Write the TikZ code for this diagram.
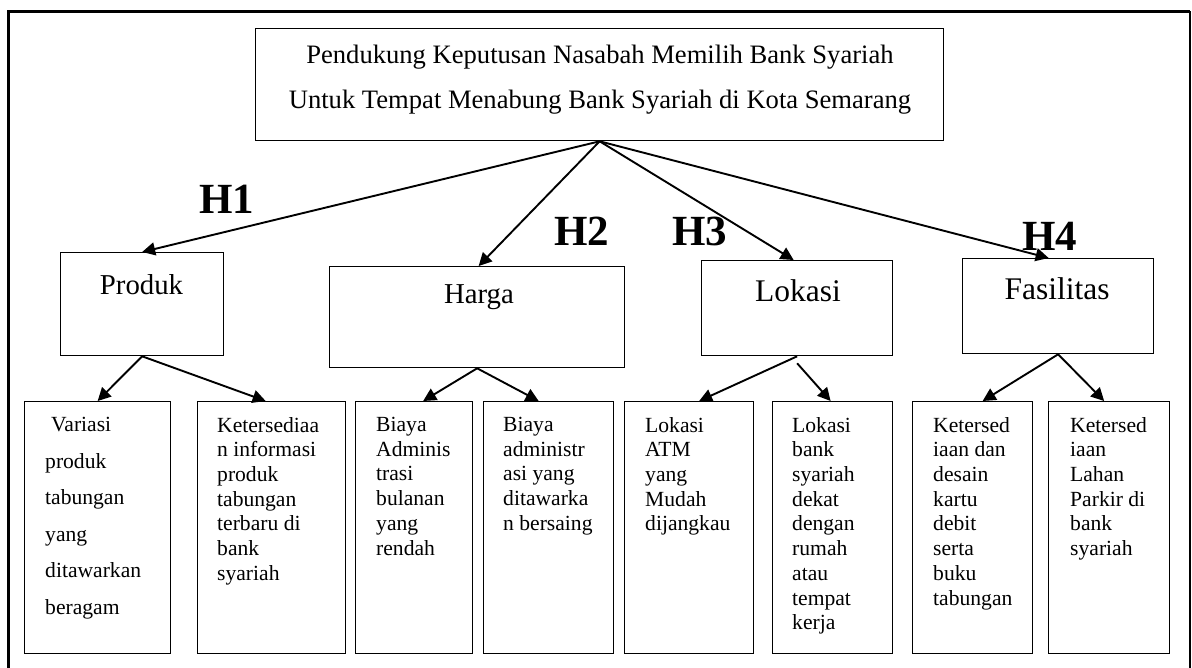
\documentclass[tikz,border=0pt]{standalone}
\usepackage{fontspec}
\setmainfont{Liberation Serif}
\usetikzlibrary{arrows.meta}
\tikzset{
  box/.style={draw=black, line width=1.3pt, inner sep=0pt, anchor=north west},
  conn/.style={line width=1.9pt, -{Triangle[length=13pt,width=13pt]}},
  leaftext/.style={anchor=north west, inner sep=0pt, align=left, font=\fontsize{21.6}{24.7}\selectfont},
  cattext/.style={inner sep=0pt},
  hlabel/.style={inner sep=0pt, font=\fontsize{43}{43}\selectfont\bfseries},
}
\begin{document}
\begin{tikzpicture}[x=1pt,y=-1pt]
\useasboundingbox (0,0) rectangle (1192,667);
\clip (0,0) rectangle (1192,667);
\fill[white] (0,0) rectangle (1192,667);
% outer frame
\draw[line width=3pt] (8,700) -- (8,11) -- (1190,11);
\draw[line width=1.5pt] (1190,11) -- (1190,700);

% title
\node[box, minimum width=688pt, minimum height=112pt] (title) at (255,28) {};
\node[inner sep=0pt, align=center, font=\fontsize{26.6}{45}\selectfont] (titletext) at (600,80)
  {Pendukung Keputusan Nasabah Memilih Bank Syariah\\Untuk Tempat Menabung Bank Syariah di Kota Semarang};

% categories
\node[box, minimum width=163pt, minimum height=103pt] (produk) at (60,252) {};
\node[cattext, font=\fontsize{28.8}{30}\selectfont] (produkt) at (141.5,285) {Produk};
\node[box, minimum width=295pt, minimum height=101pt] (harga) at (329,266) {};
\node[cattext, font=\fontsize{28.8}{30}\selectfont] (hargat) at (479,297) {Harga};
\node[box, minimum width=191pt, minimum height=95pt] (lokasi) at (701,260) {};
\node[cattext, font=\fontsize{31.5}{32}\selectfont] (lokasit) at (798,291) {Lokasi};
\node[box, minimum width=191pt, minimum height=95pt] (fasil) at (962,258) {};
\node[cattext, font=\fontsize{31.5}{32}\selectfont] (fasilt) at (1057,289) {Fasilitas};

% leaf boxes
\node[box, minimum width=146pt, minimum height=252pt] (b1) at (24,401) {};
\node[box, minimum width=148pt, minimum height=252pt] (b2) at (197,401) {};
\node[box, minimum width=117pt, minimum height=252pt] (b3) at (355,401) {};
\node[box, minimum width=130pt, minimum height=252pt] (b4) at (483,401) {};
\node[box, minimum width=129pt, minimum height=252pt] (b5) at (624,401) {};
\node[box, minimum width=120pt, minimum height=252pt] (b6) at (772,401) {};
\node[box, minimum width=120pt, minimum height=252pt] (b7) at (912,401) {};
\node[box, minimum width=121pt, minimum height=252pt] (b8) at (1048,401) {};

\node[leaftext, font=\fontsize{21.6}{36.6}\selectfont] (t1) at (45,417)
  {\hspace*{6pt}Variasi\\produk\\tabungan\\yang\\ditawarkan\\beragam};
\node[leaftext] (t2) at (217,417) {Ketersediaa\\n informasi\\produk\\tabungan\\terbaru di\\bank\\syariah};
\node[leaftext] (t3) at (376,417) {Biaya\\Adminis\\trasi\\bulanan\\yang\\rendah};
\node[leaftext] (t4) at (503,417) {Biaya\\administr\\asi yang\\ditawarka\\n bersaing};
\node[leaftext] (t5) at (645,417) {Lokasi\\ATM\\yang\\Mudah\\dijangkau};
\node[leaftext] (t6) at (792,417) {Lokasi\\bank\\syariah\\dekat\\dengan\\rumah\\atau\\tempat\\kerja};
\node[leaftext] (t7) at (933,417) {Ketersed\\iaan dan\\desain\\kartu\\debit\\serta\\buku\\tabungan};
\node[leaftext] (t8) at (1070,417) {Ketersed\\iaan\\Lahan\\Parkir di\\bank\\syariah};

% H labels
\node[hlabel] (h1) at (227,199) {H1};
\node[hlabel] (h2) at (582,231) {H2};
\node[hlabel] (h3) at (700,231) {H3};
\node[hlabel] (h4) at (1050,236) {H4};

% connectors
\draw[conn] (title.south) -- (produk.north);
\draw[conn] (title.south) -- ([xshift=1.5pt]harga.north);
\draw[conn] (title.south) -- ([xshift=-3.5pt]lokasi.north);
\draw[conn] (title.south) -- ([xshift=-9.5pt]fasil.north);

\draw[conn] (produk.south) -- (b1.north);
\draw[conn] (produk.south) -- ([xshift=-6pt]b2.north);
\draw[conn] (harga.south) -- ([xshift=9pt]b3.north);
\draw[conn] (harga.south) -- ([xshift=-10pt]b4.north);
\draw[conn] (lokasi.south) -- ([xshift=10pt]b5.north);
\draw[conn] ([yshift=-7pt]lokasi.south) -- ([xshift=-2pt]b6.north);
\draw[conn] (fasil.south) -- ([xshift=10pt]b7.north);
\draw[conn] (fasil.south) -- ([xshift=-5pt]b8.north);
\end{tikzpicture}
\end{document}
